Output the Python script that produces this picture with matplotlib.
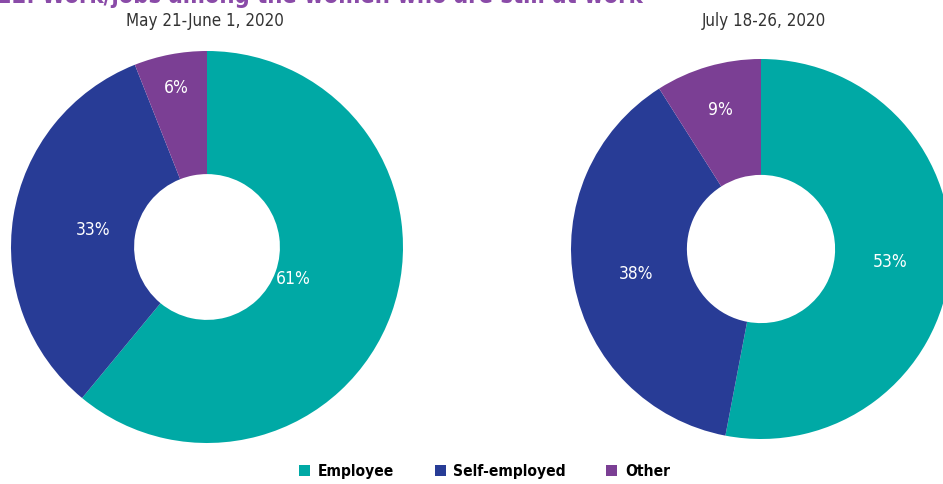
import matplotlib
matplotlib.use('Agg')
import matplotlib.pyplot as plt
from matplotlib.patches import Patch
import numpy as np

plt.rcParams['font.family'] = ['DejaVu Sans']
plt.rcParams['font.stretch'] = 'condensed'

# ---- data ----
categories = ['Employee', 'Self-employed', 'Other']
may_june = [61, 33, 6]
july = [53, 38, 9]
period_titles = ['May 21-June 1, 2020', 'July 18-26, 2020']
title = '22. Work/jobs among the women who are still at work'

colors = ['#00a9a5', '#283c96', '#7b3f94']
label_r = [[0.47, 0.59, 0.83], [0.68, 0.67, 0.77]]   # radial position of % labels

W, H = 943, 485
fig = plt.figure(figsize=(W / 100, H / 100), dpi=100)

def px_axes(cx, cy, r):
    return fig.add_axes([(cx - r) / W, (H - cy - r) / H, 2 * r / W, 2 * r / H])

axes = [px_axes(207, 248, 196), px_axes(761, 250, 190)]
holes = [0.372, 0.39]

for ax, vals, radii, hole in zip(axes, [may_june, july], label_r, holes):
    wedges, _ = ax.pie(vals, colors=colors, startangle=90, counterclock=False,
                       radius=1, wedgeprops=dict(width=1 - hole, linewidth=0))
    for w, v, rr in zip(wedges, vals, radii):
        ang = np.deg2rad((w.theta1 + w.theta2) / 2)
        ax.text(rr * np.cos(ang), rr * np.sin(ang), f'{v}%', color='white',
                ha='center', va='center', fontsize=12.5)
    ax.set_xlim(-1, 1); ax.set_ylim(-1, 1)
    ax.set_aspect('equal'); ax.axis('off')

fig.text(205 / W, 1 - 21 / H, period_titles[0], ha='center', va='center',
         fontsize=12.2, color='#333333')
fig.text(764 / W, 1 - 21 / H, period_titles[1], ha='center', va='center',
         fontsize=12.2, color='#333333')

fig.text(-0.003, 1 - 3 / H, title, ha='left', va='baseline', fontsize=17,
         fontweight='bold', color='#8a4ba8')

handles = [Patch(facecolor=c, edgecolor='none') for c in colors]
fig.legend(handles, categories, loc='center', bbox_to_anchor=(0.514, 1 - 472 / H),
           ncol=3, frameon=False, handlelength=0.7, handleheight=0.7,
           columnspacing=2.6, handletextpad=0.5,
           prop={'weight': 'bold', 'size': 11.2, 'stretch': 'condensed'})

fig.savefig('out.png', dpi=100)
